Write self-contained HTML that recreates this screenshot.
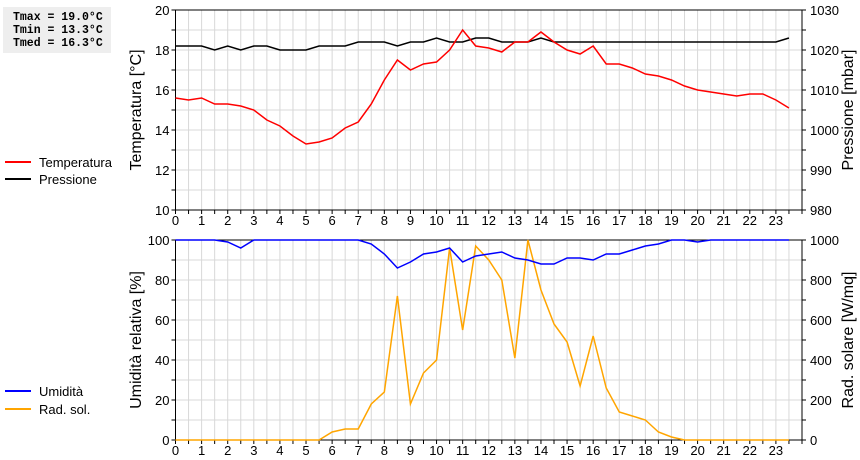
<!DOCTYPE html>
<html><head><meta charset="utf-8"><style>
body{margin:0;background:#fff;width:860px;height:460px;overflow:hidden}
#stats{position:absolute;left:3px;top:7px;width:108px;height:46px;background:#eee;font:bold 11.5px "Liberation Mono",monospace;line-height:13px;padding:4px 0 0 10px;box-sizing:border-box;white-space:pre}
svg{position:absolute;left:0;top:0}
</style></head><body>
<div id="stats">Tmax = 19.0°C
Tmin = 13.3°C
Tmed = 16.3°C</div>
<svg id="c" width="860" height="460" font-family="Liberation Sans, sans-serif" font-size="13"></svg>
<script>
const hours=[0,0.5,1,1.5,2,2.5,3,3.5,4,4.5,5,5.5,6,6.5,7,7.5,8,8.5,9,9.5,10,10.5,11,11.5,12,12.5,13,13.5,14,14.5,15,15.5,16,16.5,17,17.5,18,18.5,19,19.5,20,20.5,21,21.5,22,22.5,23,23.5];
const temperatura=[15.6,15.5,15.6,15.3,15.3,15.2,15.0,14.5,14.2,13.7,13.3,13.4,13.6,14.1,14.4,15.3,16.5,17.5,17.0,17.3,17.4,18.0,19.0,18.2,18.1,17.9,18.4,18.4,18.9,18.4,18.0,17.8,18.2,17.3,17.3,17.1,16.8,16.7,16.5,16.2,16.0,15.9,15.8,15.7,15.8,15.8,15.5,15.1];
const pressione=[1021,1021,1021,1020,1021,1020,1021,1021,1020,1020,1020,1021,1021,1021,1022,1022,1022,1021,1022,1022,1023,1022,1022,1023,1023,1022,1022,1022,1023,1022,1022,1022,1022,1022,1022,1022,1022,1022,1022,1022,1022,1022,1022,1022,1022,1022,1022,1023];
const umidita=[100,100,100,100,99,96,100,100,100,100,100,100,100,100,100,98,93,86,89,93,94,96,89,92,93,94,91,90,88,88,91,91,90,93,93,95,97,98,100,100,99,100,100,100,100,100,100,100];
const radsol=[0,0,0,0,0,0,0,0,0,0,0,0,40,55,55,180,240,720,180,335,400,960,550,970,900,800,410,1000,750,580,490,270,520,260,140,120,100,40,15,0,0,0,0,0,0,0,0,0];
const xTicks=[...Array(24).keys()];
const svg=document.getElementById('c');const NS='http://www.w3.org/2000/svg';
function el(t,a,p){const e=document.createElementNS(NS,t);for(const k in a)e.setAttribute(k,a[k]);(p||svg).appendChild(e);return e;}
const X0=175.5,X1=802;
const x=h=>X0+(X1-X0)*h/24;
function panel(top,bot,lmin,lmax,lstep,rmin,rmax,rstep,lt,rt,name){
 const g=el('g',{});
 const yl=v=>bot-(bot-top)*(v-lmin)/(lmax-lmin);
 for(let h=0.5;h<24;h+=0.5){el('line',{x1:x(h),x2:x(h),y1:top,y2:bot,stroke:'#d8d8d8'},g);}
 for(let v=lmin+lstep/2;v<lmax;v+=lstep/2){el('line',{x1:X0,x2:X1,y1:yl(v),y2:yl(v),stroke:'#d8d8d8'},g);}
 el('rect',{x:X0,y:top,width:X1-X0,height:bot-top,fill:'none',stroke:'#000'},g);
 for(let h=0;h<=24;h+=0.5){el('line',{x1:x(h),x2:x(h),y1:bot,y2:bot+4,stroke:'#000'},g);}
 xTicks.forEach(h=>{const t=el('text',{x:x(h),y:bot+15,'text-anchor':'middle'},g);t.textContent=h;});
 for(let v=lmin;v<=lmax+1e-9;v+=lstep/2){const y=yl(v);el('line',{x1:X0-4,x2:X0,y1:y,y2:y,stroke:'#000'},g);el('line',{x1:X1,x2:X1+4,y1:y,y2:y,stroke:'#000'},g);}
 for(let v=lmin;v<=lmax+1e-9;v+=lstep){const t=el('text',{x:X0-6,y:yl(v)+5,'text-anchor':'end'},g);t.textContent=v;}
 const yr=v=>bot-(bot-top)*(v-rmin)/(rmax-rmin);
 for(let v=rmin;v<=rmax;v+=rstep){const t=el('text',{x:X1+8,y:yr(v)+5},g);t.textContent=v;}
 const a=el('text',{transform:`translate(141,${(top+bot)/2}) rotate(-90)`,'text-anchor':'middle','font-size':'16'},g);a.textContent=lt;
 const b=el('text',{transform:`translate(853,${(top+bot)/2}) rotate(-90)`,'text-anchor':'middle','font-size':'16'},g);b.textContent=rt;
 return {yl,yr,g};
}
function line(vals,yf,color,name){const p=el('polyline',{points:vals.map((v,i)=>x(hours[i])+','+yf(v)).join(' '),fill:'none',stroke:color,'stroke-width':1.5});}
function legend(y,color,label){const g=el('g',{});el('line',{x1:5,x2:31,y1:y,y2:y,stroke:color,'stroke-width':2},g);const t=el('text',{x:39,y:y+5},g);t.textContent=label;}
const p1=panel(10,210,10,20,2,980,1030,10,'Temperatura [°C]','Pressione [mbar]','top');
line(pressione,p1.yr,'#000','pressione-line');
line(temperatura,p1.yl,'#f00','temperatura-line');
const p2=panel(240,440,0,100,20,0,1000,200,'Umidità relativa [%]','Rad. solare [W/mq]','bottom');
line(radsol,p2.yr,'#ffa500','radsol-line');
line(umidita,p2.yl,'#00f','umidita-line');
legend(162,'#f00','Temperatura');legend(179,'#000','Pressione');
legend(391,'#00f','Umidità');legend(409,'#ffa500','Rad. sol.');
</script></body></html>
